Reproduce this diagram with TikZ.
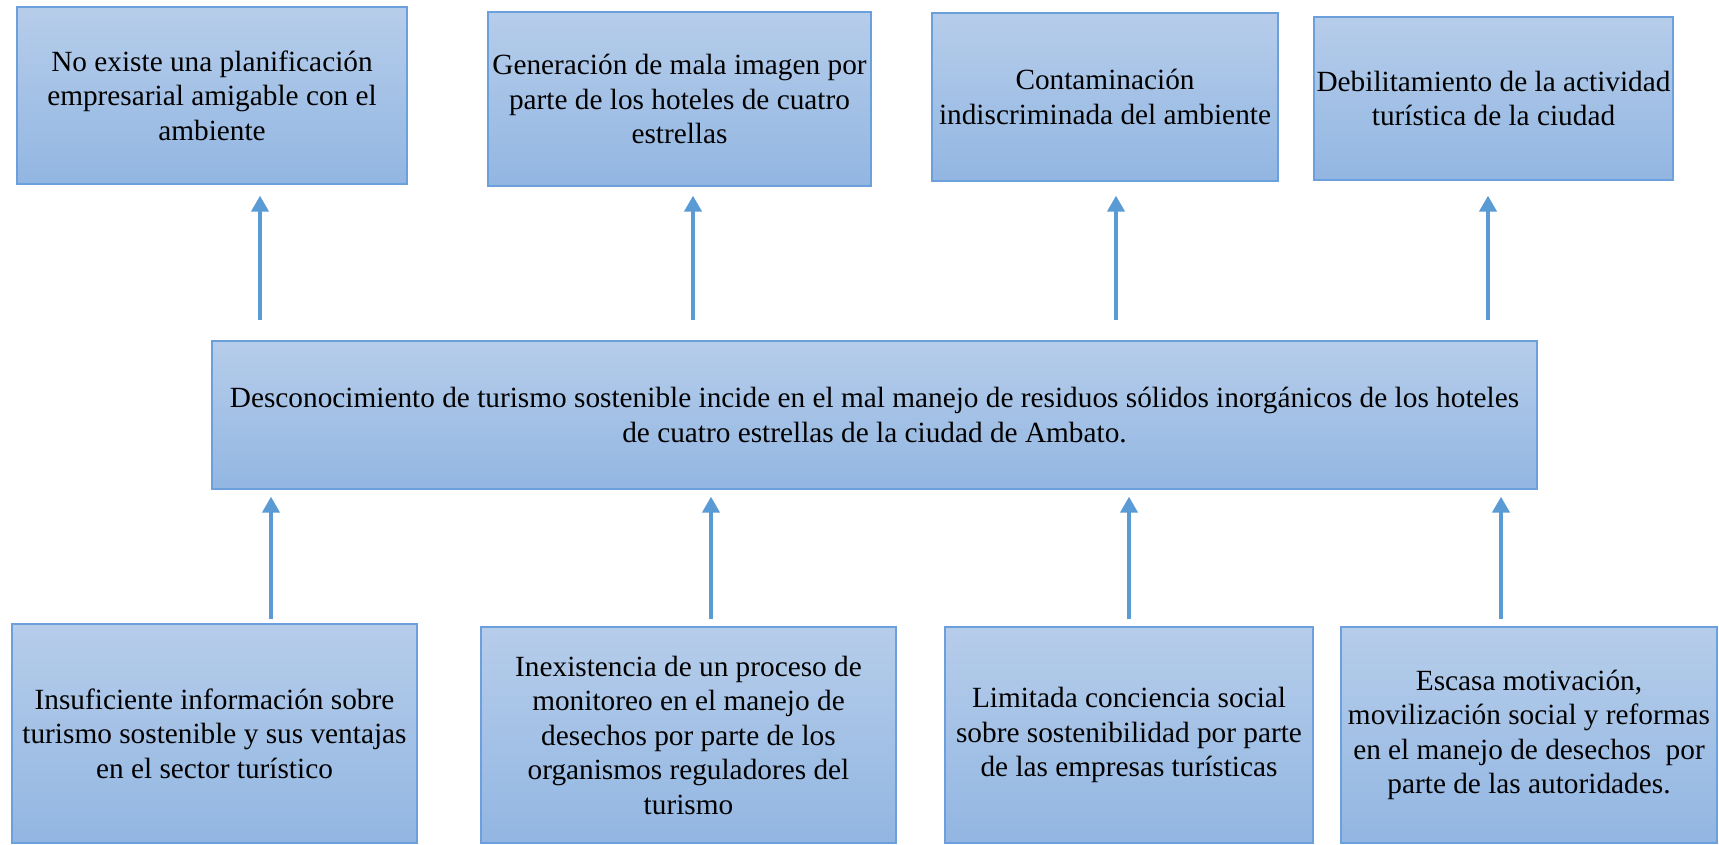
\documentclass[tikz,border=0pt]{standalone}
\usepackage{fontspec}
\setmainfont{Liberation Serif}
\usetikzlibrary{arrows.meta}
\definecolor{boxtop}{RGB}{182,205,234}
\definecolor{boxbot}{RGB}{146,182,226}
\definecolor{boxline}{RGB}{108,160,220}
\definecolor{arrcol}{RGB}{91,155,213}
\tikzset{
  box/.style={draw=boxline, line width=1.3pt, top color=boxtop, bottom color=boxbot,
    align=center, inner sep=0pt, font=\fontsize{29.3}{34.5}\selectfont, text=black},
  arr/.style={draw=arrcol, line width=4.2pt, -{Triangle[width=17pt,length=16pt]}}
}
\begin{document}
\begin{tikzpicture}[x=1pt,y=-1pt]
\useasboundingbox (0,0) rectangle (1719,845);
% effects
\node[box, minimum width=390pt, minimum height=177pt] (e1) at (212,95.5) {No existe una planificación\\empresarial amigable con el\\ambiente};
\node[box, minimum width=383pt, minimum height=174pt] (e2) at (679.5,99) {Generación de mala imagen por\\parte de los hoteles de cuatro\\estrellas};
\node[box, minimum width=346pt, minimum height=168pt] (e3) at (1105,97) {Contaminación\\indiscriminada del ambiente};
\node[box, minimum width=359pt, minimum height=163pt] (e4) at (1493.5,98.5) {Debilitamiento de la actividad\\turística de la ciudad};
% problem
\node[box, minimum width=1325pt, minimum height=148pt] (mid) at (874.5,415) {Desconocimiento de turismo sostenible incide en el mal manejo de residuos sólidos inorgánicos de los hoteles\\de cuatro estrellas de la ciudad de Ambato.};
% causes
\node[box, minimum width=405pt, minimum height=219pt] (c1) at (214.5,733.5) {Insuficiente información sobre\\turismo sostenible y sus ventajas\\en el sector turístico};
\node[box, minimum width=415pt, minimum height=216pt] (c2) at (688.5,735) {Inexistencia de un proceso de\\monitoreo en el manejo de\\desechos por parte de los\\organismos reguladores del\\turismo};
\node[box, minimum width=368pt, minimum height=216pt] (c3) at (1129,735) {Limitada conciencia social\\sobre sostenibilidad por parte\\de las empresas turísticas};
\node[box, minimum width=376pt, minimum height=216pt] (c4) at (1529,735) {Escasa motivación,\\movilización social y reformas\\en el manejo de desechos\ \ por\\parte de las autoridades.};
% arrow columns
\coordinate (t1) at (260,0);
\coordinate (t2) at (693,0);
\coordinate (t3) at (1116,0);
\coordinate (t4) at (1488,0);
\coordinate (b1) at (271,0);
\coordinate (b2) at (711,0);
\coordinate (b3) at (1129,0);
\coordinate (b4) at (1501,0);
\draw[arr, shorten <=20pt, shorten >=11pt] (mid.north -| t1) -- (e1.south -| t1);
\draw[arr, shorten <=20pt, shorten >=9pt] (mid.north -| t2) -- (e2.south -| t2);
\draw[arr, shorten <=20pt, shorten >=14pt] (mid.north -| t3) -- (e3.south -| t3);
\draw[arr, shorten <=20pt, shorten >=15pt] (mid.north -| t4) -- (e4.south -| t4);
\draw[arr, shorten <=4pt, shorten >=7pt] (c1.north -| b1) -- (mid.south -| b1);
\draw[arr, shorten <=7pt, shorten >=7pt] (c2.north -| b2) -- (mid.south -| b2);
\draw[arr, shorten <=7pt, shorten >=7pt] (c3.north -| b3) -- (mid.south -| b3);
\draw[arr, shorten <=7pt, shorten >=7pt] (c4.north -| b4) -- (mid.south -| b4);
\end{tikzpicture}
\end{document}
